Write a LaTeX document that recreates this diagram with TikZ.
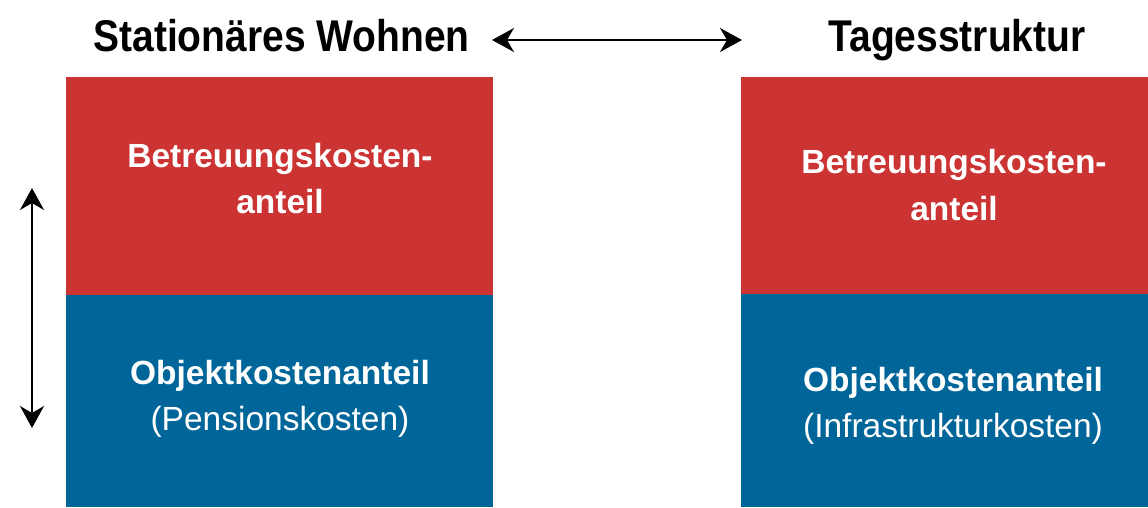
\documentclass[tikz,border=0pt]{standalone}
\usepackage{fontspec}
\setmainfont{Liberation Sans}
\usetikzlibrary{arrows.meta}
\definecolor{boxred}{RGB}{204,51,51}
\definecolor{boxblue}{RGB}{0,102,153}
\newcommand{\tallt}[1]{\scalebox{1}[1.14]{#1}}
\begin{document}
\begin{tikzpicture}[x=1pt,y=-1pt,
  panel/.style={anchor=north west, inner sep=0pt, outer sep=0pt, draw=none},
  title/.style={anchor=base, inner sep=0pt, font=\fontsize{39}{47}\selectfont\bfseries},
  boxtxt/.style={anchor=base, inner sep=0pt, align=center, text=white, font=\fontsize{33.5}{45.5}\selectfont},
  dblarrow/.style={line width=2pt, {Stealth[length=22pt,width=24pt,inset=7pt]}-{Stealth[length=22pt,width=24pt,inset=7pt]}}]
\useasboundingbox (0,0) rectangle (1148,507);
\fill[white] (0,0) rectangle (1148,507);
% panels
\node[panel, fill=boxred, minimum width=427pt, minimum height=218pt] (lred) at (66,77) {};
\node[panel, fill=boxblue, minimum width=427pt, minimum height=212pt] (lblue) at (66,295) {};
\node[panel, fill=boxred, minimum width=407pt, minimum height=217pt] (rred) at (741,77) {};
\node[panel, fill=boxblue, minimum width=407pt, minimum height=213pt] (rblue) at (741,294) {};
% titles
\node[title] (tl) at (281.5,51) {\tallt{Stationäres Wohnen}};
\node[title] (tr) at (957,51) {\tallt{Tagesstruktur}};
% texts (anchor base = baseline of last line)
\node[boxtxt] (lredt) at (280,213) {\bfseries Betreuungskosten-\\\bfseries anteil};
\node[boxtxt, font=\fontsize{33.5}{47}\selectfont] (rredt) at (954,220) {\bfseries Betreuungskosten-\\\bfseries anteil};
\node[boxtxt] (lbluet) at (280,430) {\bfseries Objektkostenanteil\\(Pensionskosten)};
\node[boxtxt] (rbluet) at (953,437) {\bfseries Objektkostenanteil\\(Infrastrukturkosten)};
% arrows
\coordinate (hl) at (492,40);
\coordinate (hr) at (742,40);
\coordinate (vt) at (32,188);
\coordinate (vb) at (32,428);
\draw[dblarrow] (hl) -- (hr);
\draw[dblarrow] (vt) -- (vb);
\end{tikzpicture}
\end{document}
